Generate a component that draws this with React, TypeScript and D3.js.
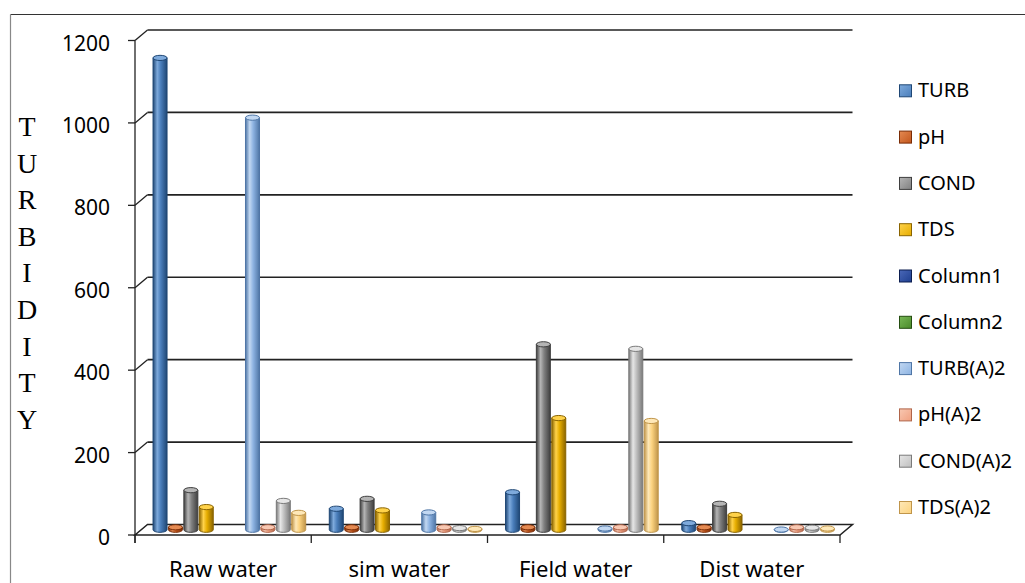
import React from "react";
import * as d3 from "d3";

// Water sample categories and measured series
const categories = ["Raw water", "sim water", "Field water", "Dist water"];
const seriesNames = [
  "TURB", "pH", "COND", "TDS", "Column1", "Column2",
  "TURB(A)2", "pH(A)2", "COND(A)2", "TDS(A)2",
];

const TURB = [1145, 51, 91, 16];
const pH = [6, 6, 6, 6];
const COND = [96, 75, 450, 63];
const TDS = [55, 47, 271, 36];
const Column1: (number | null)[] = [null, null, null, null];
const Column2: (number | null)[] = [null, null, null, null];
const TURB_A2 = [1000, 42, 3, 0.5];
const pH_A2 = [6, 6, 6, 6];
const COND_A2 = [70, 4, 439, 5];
const TDS_A2 = [41, 2, 264, 3];

const seriesValues: (number | null)[][] = [
  TURB, pH, COND, TDS, Column1, Column2, TURB_A2, pH_A2, COND_A2, TDS_A2,
];

const yTicks = [0, 200, 400, 600, 800, 1000, 1200];
const axisTitle = "TURBIDITY";

// fill, light highlight, dark edge
const palette: [string, string, string][] = [
  ["#4a7ebb", "#7eaadc", "#1f4775"],
  ["#c2561c", "#e58a52", "#7a2c05"],
  ["#808080", "#b5b5b5", "#3f3f3f"],
  ["#e6ad00", "#ffd24a", "#8a6400"],
  ["#1f3f8f", "#4a68b8", "#0c1e50"],
  ["#4a8a2a", "#78b856", "#244d10"],
  ["#8db3e2", "#c2d8f2", "#4f76a6"],
  ["#f0a080", "#f8c8b2", "#b0654a"],
  ["#bfbfbf", "#e6e6e6", "#7a7a7a"],
  ["#fcd37f", "#fee8b8", "#c0954a"],
];

const W = 1025;
const H = 583;
const X0 = 135;
const X1 = 840;
const DX = 12.5;
const DY = -10.5;
const RX = 7;
const RY = 2.6;
const FONT = "'Noto Sans', 'Open Sans', sans-serif";

export default function App() {
  const y = d3.scaleLinear().domain([0, 1200]).range([535, 40.5]);
  const xCat = d3.scaleBand<string>().domain(categories).range([X0, X1]).padding(0);
  const xSer = d3
    .scaleBand<string>()
    .domain(seriesNames)
    .range([0, xCat.bandwidth()])
    .paddingInner(0)
    .paddingOuter(0.72);

  const bars: { key: string; cx: number; yTop: number; yBase: number; s: number }[] = [];
  categories.forEach((c, ci) => {
    seriesNames.forEach((sn, si) => {
      const v = seriesValues[si][ci];
      if (v == null) return;
      const cx = (xCat(c) as number) + (xSer(sn) as number) + xSer.bandwidth() / 2 + DX / 2;
      bars.push({ key: `${c}-${sn}`, cx, yTop: y(v) + DY / 2, yBase: y(0) + DY / 2, s: si });
    });
  });

  const catTicks = [...categories.map((c) => xCat(c) as number), X1];

  return (
    <svg
      width={W}
      height={H}
      style={{ position: "absolute", left: 0, top: 0, background: "#fff" }}
    >
      <defs>
        {palette.map((p, i) => (
          <linearGradient key={i} id={`cyl${i}`} x1="0" x2="1" y1="0" y2="0">
            <stop offset="0" stopColor={p[2]} />
            <stop offset="0.3" stopColor={p[1]} />
            <stop offset="0.55" stopColor={p[0]} />
            <stop offset="1" stopColor={p[2]} />
          </linearGradient>
        ))}
        {palette.map((p, i) => (
          <linearGradient key={`l${i}`} id={`leg${i}`} x1="0" x2="1" y1="0" y2="1">
            <stop offset="0" stopColor={p[1]} />
            <stop offset="1" stopColor={p[0]} />
          </linearGradient>
        ))}
      </defs>

      {/* outer frame */}
      <line x1={10.5} x2={W} y1={14.5} y2={14.5} stroke="#333" strokeWidth={1.2} />
      <line x1={10.5} x2={10.5} y1={14.5} y2={H} stroke="#888" strokeWidth={1.2} />

      {/* back wall gridlines and side-wall connectors */}
      {yTicks.filter((t) => t > 0).map((t) => (
        <g key={t}>
          <line x1={X0 + DX} x2={X1 + DX} y1={y(t) + DY} y2={y(t) + DY} stroke="#222" strokeWidth={1.6} />
          <line x1={X0} x2={X0 + DX} y1={y(t)} y2={y(t) + DY} stroke="#222" strokeWidth={1.3} />
        </g>
      ))}

      {/* floor */}
      <polygon
        points={`${X0},${y(0)} ${X1},${y(0)} ${X1 + DX},${y(0) + DY} ${X0 + DX},${y(0) + DY}`}
        fill="#fff"
        stroke="#222"
        strokeWidth={1.5}
      />

      {/* cylinders */}
      {bars.map((b) => {
        const p = palette[b.s];
        const top = Math.min(b.yTop, b.yBase);
        return (
          <g key={b.key}>
            <path
              d={`M${b.cx - RX},${top} L${b.cx - RX},${b.yBase} A${RX},${RY} 0 0 0 ${b.cx + RX},${b.yBase} L${b.cx + RX},${top} Z`}
              fill={`url(#cyl${b.s})`}
              stroke={p[2]}
              strokeWidth={1}
            />
            <ellipse cx={b.cx} cy={top} rx={RX} ry={RY} fill={p[1]} stroke={p[2]} strokeWidth={1} />
          </g>
        );
      })}

      {/* front value axis */}
      <line x1={X0} x2={X0} y1={y(1200)} y2={y(0) + 8} stroke="#222" strokeWidth={1.3} />
      {yTicks.map((t) => (
        <g key={t}>
          <line x1={X0 - 7} x2={X0} y1={y(t)} y2={y(t)} stroke="#222" strokeWidth={1.3} />
          <text x={110} y={y(t) + 10} textAnchor="end" fontFamily={FONT} fontSize={21} fill="#000">
            {t}
          </text>
        </g>
      ))}

      {/* category axis ticks and labels */}
      {catTicks.map((x, i) => (
        <line key={i} x1={x} x2={x} y1={y(0)} y2={y(0) + 8} stroke="#222" strokeWidth={1.3} />
      ))}
      {categories.map((c) => (
        <text
          key={c}
          x={(xCat(c) as number) + xCat.bandwidth() / 2}
          y={577}
          textAnchor="middle"
          fontFamily={FONT}
          fontSize={22}
          fill="#000"
        >
          {c}
        </text>
      ))}

      {/* stacked vertical axis title */}
      {axisTitle.split("").map((ch, i) => (
        <text
          key={i}
          x={27}
          y={136 + i * 36.6}
          textAnchor="middle"
          fontFamily="'Liberation Serif', 'Times New Roman', serif"
          fontSize={28}
          fill="#000"
        >
          {ch}
        </text>
      ))}

      {/* legend */}
      {seriesNames.map((sn, i) => {
        const by = 97.3 + i * 46.3;
        const p = palette[i];
        return (
          <g key={sn}>
            <rect x={899.5} y={by - 12.5} width={12} height={12} fill={`url(#leg${i})`} stroke={p[2]} strokeWidth={1} />
            <text x={918} y={by} fontFamily={FONT} fontSize={20} fill="#000">
              {sn}
            </text>
          </g>
        );
      })}
    </svg>
  );
}
